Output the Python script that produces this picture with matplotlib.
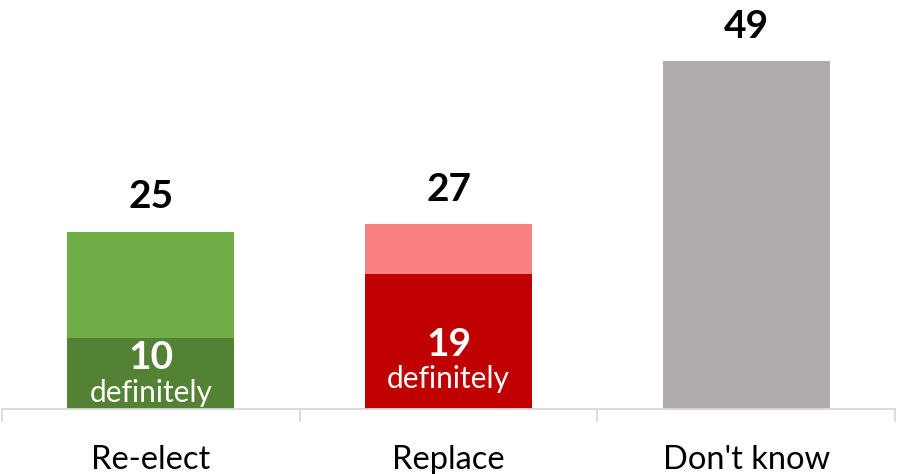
import numpy as np
import matplotlib
matplotlib.use("Agg")
import matplotlib.pyplot as plt

plt.rcParams['font.family'] = ['Lato', 'DejaVu Sans']

categories = ["Re-elect", "Replace", "Don't know"]
definitely = [10, 19, 49]      # dark (lower) segment
probably = [15, 7, 0]          # light (upper) segment, as drawn
total_labels = [25, 27, 49]
dark_colors = ['#548235', '#C00000', '#AFABAB']
light_colors = ['#70AD47', '#F88080', '#AFABAB']

fig = plt.figure(figsize=(8.97, 4.74), dpi=100)
ax = fig.add_axes([2/897, 65/474, 893/897, 390.5/474])

x = np.arange(len(categories))
ax.bar(x, definitely, width=0.56, color=dark_colors, zorder=2)
ax.bar(x, probably, bottom=definitely, width=0.56, color=light_colors, zorder=2)

ax.set_xlim(-0.5, 2.5)
ax.set_ylim(0, 55)

tops = [d + p for d, p in zip(definitely, probably)]
for i, t in enumerate(tops):
    ax.text(i, t + 3.3, str(total_labels[i]), ha='center', va='baseline',
            fontsize=28, fontweight='bold', color='black', clip_on=False)

# inner labels for the "definitely" part
num_y = [7.2, 9.1]
for i in range(2):
    ax.text(i, num_y[i], str(definitely[i]), ha='center', va='center',
            fontsize=28, fontweight='bold', color='white')
    ax.text(i, num_y[i] - 6.2, "definitely", ha='center', va='baseline',
            fontsize=21.5, color='white')

for s in ['top', 'right', 'left']:
    ax.spines[s].set_visible(False)
ax.spines['bottom'].set_color('#D9D9D9')
ax.spines['bottom'].set_linewidth(1.3)
ax.set_yticks([])
ax.set_xticks([-0.5, 0.5, 1.5, 2.5])
ax.set_xticklabels([])
ax.tick_params(axis='x', length=9, width=1.3, color='#D9D9D9')
ax.set_xticks(x, minor=True)
ax.set_xticklabels(categories, minor=True, fontsize=23.5)
ax.tick_params(axis='x', which='minor', length=0, pad=26)

fig.savefig("out.png", dpi=100)
